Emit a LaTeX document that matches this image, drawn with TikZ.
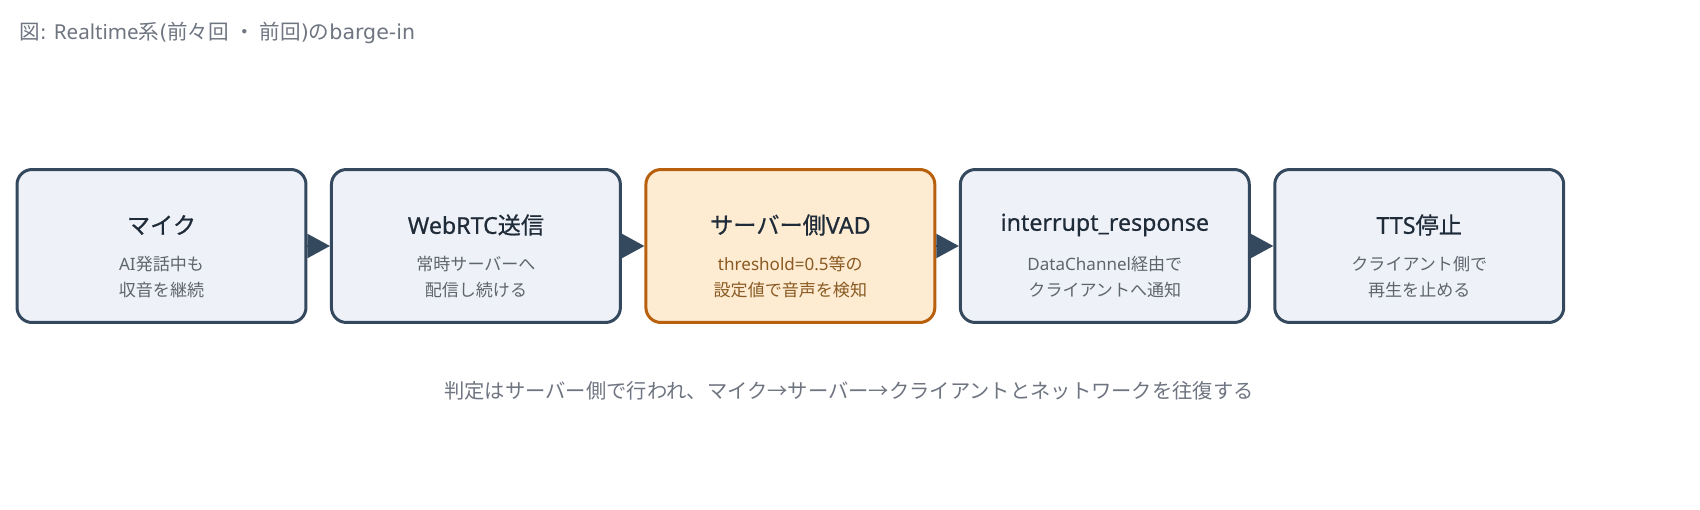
\documentclass[tikz,border=0pt]{standalone}
\usepackage{fontspec}
\setmainfont{Noto Sans CJK JP}
\newfontfamily\enfont{Noto Sans}
\newfontfamily\capfont{DejaVu Sans}
\newfontfamily\headjp{Noto Sans CJK JP}[FakeBold=0.6]
\newfontfamily\headen{Noto Sans}[FakeBold=0.6]
\newcommand\en[1]{{\enfont #1}}
\newcommand\cen[1]{{\capfont #1}}
\newcommand\hen[1]{{\headen #1}}
\usetikzlibrary{positioning,arrows.meta}
\definecolor{edgeblue}{HTML}{34495E}
\definecolor{boxfill}{HTML}{EEF2F8}
\definecolor{hotedge}{HTML}{B8600E}
\definecolor{hotfill}{HTML}{FDEBD2}
\definecolor{headtext}{HTML}{1F2B38}
\definecolor{notetext}{HTML}{5F656E}
\definecolor{hottext}{HTML}{8A5A22}
\definecolor{captext}{HTML}{6E7480}

\begin{document}
\begin{tikzpicture}[x=0.02cm,y=-0.02cm,
    every node/.style={inner sep=0pt},
    stage/.style={draw=edgeblue,fill=boxfill,line width=0.06cm,rounded corners=0.3cm,
        minimum width=5.78cm,minimum height=3.06cm},
    hot/.style={stage,draw=hotedge,fill=hotfill},
    head/.style={font=\headjp\fontsize{13.2}{16}\selectfont,text=headtext},
    note/.style={font=\fontsize{9.7}{14.8}\selectfont,text=notetext,align=center},
    flow/.style={edgeblue,line width=0.04cm,-{Triangle[length=0.45cm,width=0.48cm]}}]
    \useasboundingbox (0,0) rectangle (1700,510);
    % caption
    \node [anchor=west,text=captext,font=\fontsize{11.7}{14}\selectfont] (caption) at (19,33)
        {図\cen{:}\en{ Realtime}系\cen{(}前々回\hspace{0.25em}・\hspace{0.25em}前回\cen{)}の\cen{barge-in}};
    % stages
    \node [stage] (mic) at (161.5,246) {};
    \node [stage,right=0.45cm of mic] (send) {};
    \node [hot,right=0.45cm of send] (vad) {};
    \node [stage,right=0.45cm of vad] (notify) {};
    \node [stage,right=0.45cm of notify] (stop) {};
    \node [head] (micHead) at ([yshift=0.42cm]mic.center) {マイク};
    \node [note] (micNote) at ([yshift=-0.62cm]mic.center) {\en{AI}発話中も\\収音を継続};
    \node [head] (sendHead) at ([yshift=0.42cm]send.center) {\hen{WebRTC}送信};
    \node [note] (sendNote) at ([yshift=-0.62cm]send.center) {常時サーバーへ\\配信し続ける};
    \node [head] (vadHead) at ([yshift=0.42cm]vad.center) {サーバー側\hen{VAD}};
    \node [note,text=hottext] (vadNote) at ([yshift=-0.62cm]vad.center) {\en{threshold=0.5}等の\\設定値で音声を検知};
    \node [head] (notifyHead) at ([yshift=0.42cm]notify.center) {\hen{interrupt\_response}};
    \node [note] (notifyNote) at ([yshift=-0.62cm]notify.center) {\en{DataChannel}経由で\\クライアントへ通知};
    \node [head] (stopHead) at ([yshift=0.42cm]stop.center) {\hen{TTS}停止};
    \node [note] (stopNote) at ([yshift=-0.62cm]stop.center) {クライアント側で\\再生を止める};
    \draw [flow] (mic) -- (send);
    \draw [flow] (send) -- (vad);
    \draw [flow] (vad) -- (notify);
    \draw [flow] (notify) -- (stop);
    % summary
    \node [text=captext,font=\fontsize{11.55}{14}\selectfont] (summary) at (849,391)
        {判定はサーバー側で行われ、マイク→サーバー→クライアントとネットワークを往復する};
\end{tikzpicture}
\end{document}
